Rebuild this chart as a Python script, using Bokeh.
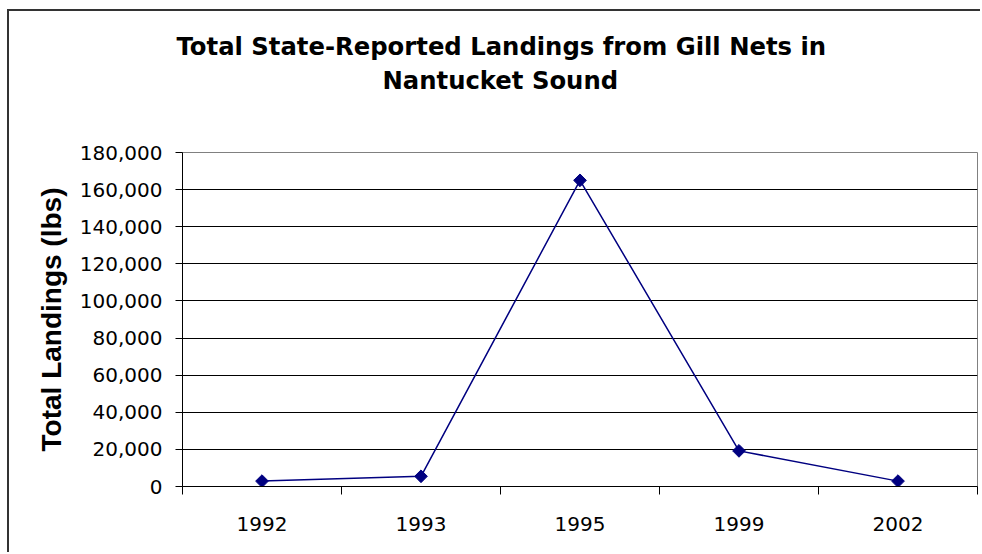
import math
from bokeh.plotting import figure
from bokeh.models import FixedTicker, NumeralTickFormatter, Title, Range1d
from bokeh.embed import file_html
from bokeh.resources import INLINE

years = ["1992", "1993", "1995", "1999", "2002"]
landings = [2900, 5500, 165000, 19200, 2900]
y_ticks = [0, 20000, 40000, 60000, 80000, 100000, 120000, 140000, 160000, 180000]
title_lines = ["Total State-Reported Landings from Gill Nets in", "Nantucket Sound"]
y_label = "Total Landings (lbs)"

TICK_FONT = "DejaVu Sans"
BOLD_FONT = "Liberation Sans"
TITLE_FONT = "DejaVu Sans"

n = len(years)
xs = [i + 0.5 for i in range(n)]

W, H = 973, 543
p = figure(width=W, height=H, output_backend="svg", toolbar_location=None,
           x_range=Range1d(0, n), y_range=Range1d(0, 180000), title=None,
           min_border_left=173, min_border_right=5, min_border_top=141, min_border_bottom=68)
p.styles = {"margin-left": "7px", "margin-top": "9px",
            "border-left": "2px solid #333333", "border-top": "2px solid #333333"}

p.background_fill_color = "white"
p.border_fill_color = "white"
p.outline_line_color = "#808080"
p.outline_line_width = 1

# x axis: labels at category centres, tick marks at category boundaries
p.xaxis.ticker = FixedTicker(ticks=xs, minor_ticks=list(range(n + 1)))
p.xaxis.major_label_overrides = {x: y for x, y in zip(xs, years)}
p.xaxis.major_tick_out = 0
p.xaxis.major_tick_in = 0
p.xaxis.minor_tick_out = 8
p.xaxis.minor_tick_in = 0
p.xaxis.minor_tick_line_color = "black"
p.xaxis.axis_line_color = "black"
p.xaxis.major_label_text_font = TICK_FONT
p.xaxis.major_label_text_font_size = "20px"
p.xaxis.major_label_text_color = "black"
p.xaxis.major_label_standoff = 22
p.xgrid.grid_line_color = None

# y axis
p.yaxis.ticker = FixedTicker(ticks=y_ticks)
p.yaxis.formatter = NumeralTickFormatter(format="0,0")
p.yaxis.major_tick_out = 7
p.yaxis.major_tick_in = 0
p.yaxis.minor_tick_line_color = None
p.yaxis.axis_line_color = "black"
p.yaxis.major_tick_line_color = "black"
p.yaxis.major_label_text_font = TICK_FONT
p.yaxis.major_label_text_font_size = "20px"
p.yaxis.major_label_text_color = "black"
p.yaxis.major_label_standoff = 13
p.yaxis.axis_label = y_label
p.yaxis.axis_label_text_font = BOLD_FONT
p.yaxis.axis_label_text_font_style = "bold"
p.yaxis.axis_label_text_font_size = "28px"
p.yaxis.axis_label_text_color = "black"
p.yaxis.axis_label_standoff = 10
p.ygrid.grid_line_color = "black"
p.ygrid.grid_line_width = 1

p.line(xs, landings, line_color="#000080", line_width=1.5)
p.scatter(xs, landings, marker="square", angle=math.pi / 4, size=9,
          fill_color="#000080", line_color="#000080")

# title panels stack upward from the plot: blank spacer, then line 2, then line 1
p.add_layout(Title(text=" ", standoff=28, text_font=TITLE_FONT, text_font_size="24px"), "above")
for t, off, so in [(title_lines[1], 200, 0), (title_lines[0], -6, 6)]:
    p.add_layout(Title(text=t, align="left", offset=off, standoff=so,
                       text_font=TITLE_FONT, text_font_style="bold", text_font_size="24.3px",
                       text_color="black"), "above")

open("out.html", "w").write(file_html(p, INLINE))
